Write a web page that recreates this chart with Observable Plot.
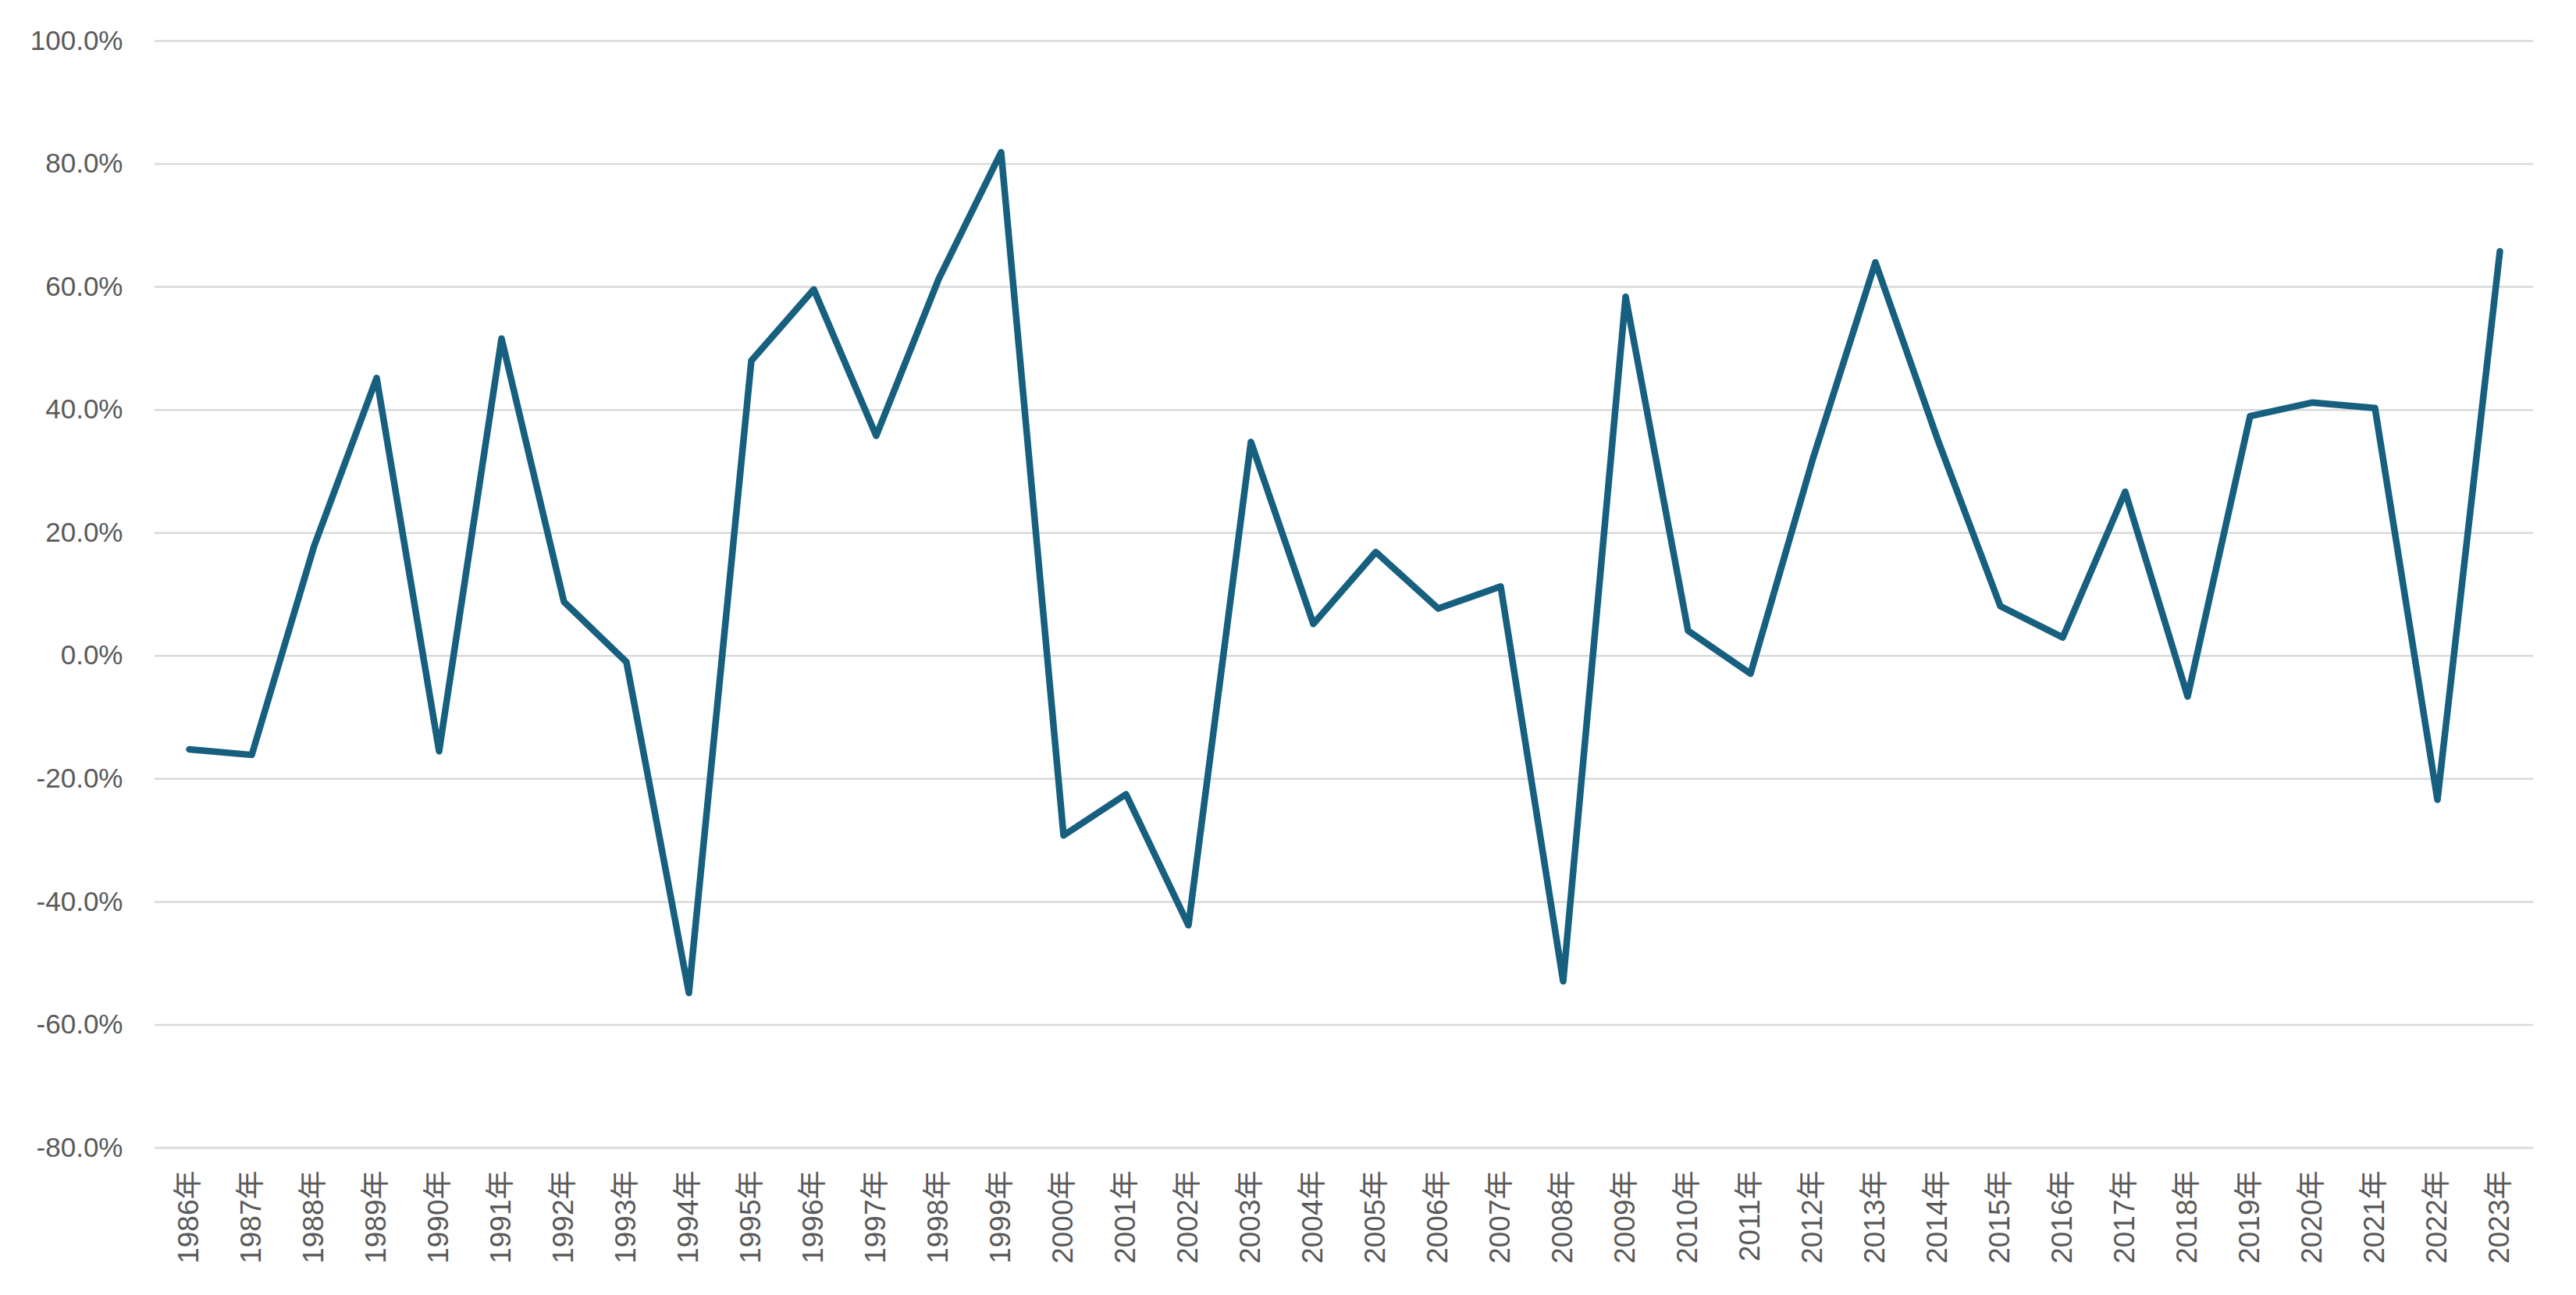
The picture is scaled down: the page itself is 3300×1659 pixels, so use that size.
<!DOCTYPE html>
<html>
<head>
<meta charset="utf-8">
<script src="https://cdn.jsdelivr.net/npm/d3@7"></script>
<script src="https://cdn.jsdelivr.net/npm/@observablehq/plot@0.6"></script>
<style>
  html, body { margin: 0; padding: 0; background: #ffffff; }
  #chart { width: 3300px; height: 1659px; }
</style>
</head>
<body>
<div id="chart"></div>
<script>
const years = ["1986年","1987年","1988年","1989年","1990年","1991年","1992年","1993年","1994年","1995年",
  "1996年","1997年","1998年","1999年","2000年","2001年","2002年","2003年","2004年","2005年",
  "2006年","2007年","2008年","2009年","2010年","2011年","2012年","2013年","2014年","2015年",
  "2016年","2017年","2018年","2019年","2020年","2021年","2022年","2023年"];
const growth = [-0.152, -0.161, 0.179, 0.452, -0.155, 0.516, 0.088, -0.010, -0.548, 0.480,
  0.596, 0.358, 0.613, 0.819, -0.292, -0.225, -0.438, 0.348, 0.052, 0.169,
  0.077, 0.113, -0.529, 0.584, 0.041, -0.029, 0.321, 0.640, 0.351, 0.081,
  0.030, 0.267, -0.066, 0.390, 0.412, 0.403, -0.234, 0.658];
const yTicks = [-0.8, -0.6, -0.4, -0.2, 0, 0.2, 0.4, 0.6, 0.8, 1.0];

const data = years.map((y, i) => ({year: y, value: growth[i]}));
const fmt = d => (d * 100).toFixed(1) + "%";

const chart = Plot.plot({
  width: 3300,
  height: 1659,
  marginLeft: 198,
  marginRight: 55,
  marginTop: 52,
  marginBottom: 189,
  style: {fontFamily: "'Liberation Sans', Arial, 'Noto Sans CJK SC', sans-serif", background: "#ffffff", color: "#595959"},
  x: {type: "point", domain: years, padding: 0.5, label: null},
  y: {domain: [-0.8, 1.0], label: null},
  marks: [
    Plot.gridY(yTicks, {stroke: "#d9d9d9", strokeOpacity: 1, strokeWidth: 2.5}),
    Plot.axisY(yTicks, {tickSize: 0, tickPadding: 41, tickFormat: fmt, fontSize: 35, fill: "#595959", label: null}),
    Plot.axisX(years, {tickSize: 0, tickPadding: 29, tickRotate: -90, fontSize: 37, fill: "#595959", label: null}),
    Plot.line(data, {x: "year", y: "value", stroke: "#165f7f", strokeWidth: 8.5, strokeLinejoin: "round", strokeLinecap: "round"})
  ]
});
document.getElementById("chart").appendChild(chart);
</script>
</body>
</html>
